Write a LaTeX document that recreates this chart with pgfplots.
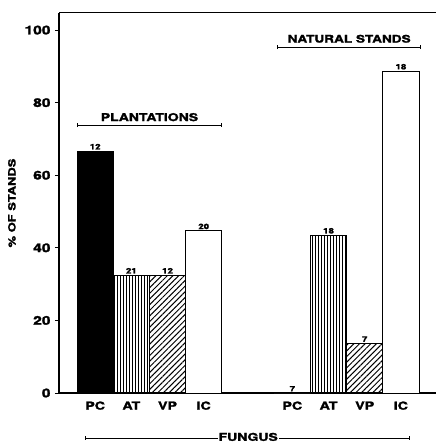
\documentclass[border=0pt]{standalone}
\usepackage{fontspec}
\setmainfont{texgyreheros-bold.otf}[FakeStretch=1.3, FakeBold=2]
\usepackage{pgfplots}
\pgfplotsset{compat=1.18}
\usetikzlibrary{patterns.meta,arrows.meta}
\begin{document}
\begin{tikzpicture}
\begin{axis}[
  scale only axis, width=377bp, height=380bp,
  xmin=-1, xmax=9.42, ymin=0, ymax=104.7,
  axis x line=bottom, axis y line=left,
  axis line style={-, line width=1.4pt},
  ytick={0,20,40,60,80,100},
  xtick={0,1,2,3,5.45,6.45,7.45,8.45},
  xticklabels={PC,AT,VP,IC,PC,AT,VP,IC},
  x tick style={draw=none},
  y tick style={line width=0.8pt, black},
  tick align=outside, major tick length=4bp,
  yticklabel style={font=\fontsize{12}{13}\selectfont, xshift=-1bp},
  xticklabel style={font=\fontsize{11}{12}\selectfont, yshift=-1bp},
  /pgf/number format/assume math mode=true,
  ylabel={\% OF STANDS},
  ylabel style={font=\fontsize{10}{12}\selectfont, yshift=2bp},
  clip=false,
  point meta=explicit symbolic,
  nodes near coords,
  nodes near coords style={font=\fontsize{7.5}{8}\selectfont, inner sep=1.2pt},
]
\addplot[ybar, bar width=1, bar shift=0, fill=black, draw=black, line width=0.8pt]
  coordinates {(0,66.7) [12]};
\addplot[ybar, bar width=1, bar shift=0, draw=black, line width=0.8pt,
  pattern={Lines[angle=90,distance=3bp,line width=0.9bp]}, pattern color=black]
  coordinates {(1,32.5) [21] (6.45,43.5) [18]};
\addplot[ybar, bar width=1, bar shift=0, draw=black, line width=0.8pt,
  pattern={Lines[angle=45,distance=4bp,line width=1bp]}, pattern color=black]
  coordinates {(2,32.5) [12] (7.45,13.7) [7]};
\addplot[ybar, bar width=1, bar shift=0, fill=white, draw=black, line width=0.8pt]
  coordinates {(3,44.7) [20] (5.45,0) [7] (8.45,88.7) [18]};
\draw[line width=1pt] (rel axis cs:0,1) -- (rel axis cs:1,1);
\draw[line width=0.8pt, {Bar[width=4pt]}-{Bar[width=4pt]}] (axis cs:-0.5,73.8) -- (axis cs:3.5,73.8);
\node[font=\fontsize{10.8}{12}\selectfont] at (axis cs:1.5,76.0) {PLANTATIONS};
\draw[line width=0.8pt, {Bar[width=4pt]}-{Bar[width=4pt]}] (axis cs:5.03,95.3) -- (axis cs:9.0,95.3);
\node[font=\fontsize{10.5}{12}\selectfont] at (axis cs:7.02,97.6) {NATURAL STANDS};
\draw[line width=0.8pt, {Bar[width=4pt]}-{Bar[width=4pt]}] (axis cs:-0.28,-12.4) -- (axis cs:8.7,-12.4);
\node[fill=white, inner sep=1pt, font=\fontsize{10.8}{12}\selectfont] at (axis cs:4.23,-12.1) {FUNGUS};
\end{axis}
\pgfresetboundingbox
\path[use as bounding box] ([xshift=-59bp,yshift=-50bp]current axis.south west) rectangle ([yshift=13bp]current axis.north east);
\end{tikzpicture}
\end{document}
